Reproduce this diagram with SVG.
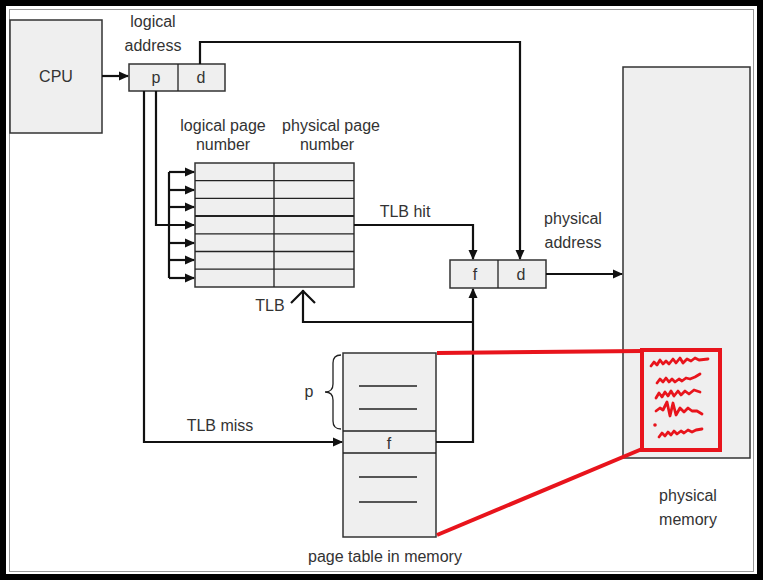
<svg xmlns="http://www.w3.org/2000/svg" width="763" height="580" viewBox="0 0 763 580">
<style>
.box{fill:#efefef;stroke:#333;stroke-width:1.5}
.ln{fill:none;stroke:#111;stroke-width:2.2}
.thin{fill:none;stroke:#222;stroke-width:1.3}
.t{font-family:"Liberation Sans",Arial,sans-serif;font-size:16px;fill:#333;text-anchor:middle}
.red{fill:none;stroke:#e8141c;stroke-width:4}
.sq{fill:none;stroke:#e8141c;stroke-width:2.8;stroke-linejoin:round;stroke-linecap:round}
</style>
<defs>
<marker id="ah" viewBox="0 0 10 10" refX="9" refY="5" markerWidth="10" markerHeight="10" markerUnits="userSpaceOnUse" orient="auto">
<path d="M0,0.5 L10,5 L0,9.5 Z" fill="#111"/>
</marker>
</defs>
<rect x="0" y="0" width="763" height="580" fill="#fff"/>
<rect x="3" y="3" width="757" height="574" fill="none" stroke="#000" stroke-width="6"/>
<rect x="9.5" y="9.5" width="744" height="562" fill="none" stroke="#999" stroke-width="1"/>

<g id="cpu">
<rect class="box" x="10" y="20" width="92" height="113"/>
<text class="t" x="56" y="82" font-size="17">CPU</text>
</g>

<g id="logical-address">
<text class="t" x="153" y="27">logical</text>
<text class="t" x="153" y="51">address</text>
<rect class="box" x="129" y="64" width="96" height="27"/>
<line class="thin" x1="178" y1="64" x2="178" y2="91"/>
<text class="t" x="156" y="83">p</text>
<text class="t" x="201" y="83">d</text>
</g>

<g id="tlb">
<text class="t" x="223" y="131">logical page</text>
<text class="t" x="223" y="150">number</text>
<text class="t" x="331" y="131">physical page</text>
<text class="t" x="327" y="150">number</text>
<rect class="box" x="195" y="163" width="159" height="124"/>
<g class="thin">
<line x1="274" y1="163" x2="274" y2="287"/>
<line x1="195" y1="180.7" x2="354" y2="180.7"/>
<line x1="195" y1="198.4" x2="354" y2="198.4"/>
<line x1="195" y1="216.1" x2="354" y2="216.1" stroke-width="2"/>
<line x1="195" y1="233.8" x2="354" y2="233.8"/>
<line x1="195" y1="251.5" x2="354" y2="251.5"/>
<line x1="195" y1="269.2" x2="354" y2="269.2"/>
</g>
<text class="t" x="270" y="311">TLB</text>
</g>

<g id="physical-address">
<text class="t" x="573" y="224">physical</text>
<text class="t" x="573" y="248">address</text>
<rect class="box" x="450" y="260" width="96" height="28"/>
<line class="thin" x1="498" y1="260" x2="498" y2="288"/>
<text class="t" x="475" y="280">f</text>
<text class="t" x="521" y="280">d</text>
</g>

<g id="page-table">
<rect class="box" x="343" y="353" width="93" height="184"/>
<line class="thin" x1="343" y1="431" x2="436" y2="431"/>
<line class="thin" x1="343" y1="453" x2="436" y2="453" stroke-width="2"/>
<g class="thin">
<line x1="359" y1="386" x2="417" y2="386"/>
<line x1="359" y1="409" x2="417" y2="409"/>
<line x1="359" y1="477" x2="417" y2="477"/>
<line x1="359" y1="502" x2="417" y2="502"/>
</g>
<text class="t" x="389" y="449" font-size="13">f</text>
<path class="thin" d="M341,355 Q333,355 333,363 L333,384 Q333,392 325,392 Q333,392 333,400 L333,421 Q333,429 341,429"/>
<text class="t" x="309" y="397">p</text>
<text class="t" x="385" y="562" font-size="15">page table in memory</text>
</g>

<g id="physical-memory">
<rect class="box" x="623" y="67" width="127" height="391"/>
<text class="t" x="688" y="501">physical</text>
<text class="t" x="688" y="525">memory</text>
<rect class="red" x="642" y="350" width="78" height="100"/>
<path class="sq" d="M651,366 l3,-4 l3,3 l3,-5 l3,4 l3,-3 l3,3 l4,-5 l3,4 l4,-5 l3,5 l4,-4 l4,2 l4,-3 l4,2 l9,-1"/>
<path class="sq" d="M657,383 l3,-4 l3,3 l3,-4 l3,4 l3,-3 l3,3 l4,-3 l3,2 l4,-3 l4,1 l5,-2 l5,-3"/>
<path class="sq" d="M656,398 l3,-5 l3,4 l3,-5 l3,4 l3,-5 l3,5 l4,-5 l3,4 l4,-4 l4,3 l5,-4 l6,2"/>
<path class="sq" d="M656,411 l4,-3 l3,2 l4,-8 l3,14 l3,-13 l3,12 l4,-7 l4,4 l4,-4 l4,3 l5,0 l5,3"/>
<circle cx="655" cy="425" r="1.8" fill="#e8141c"/>
<path class="sq" d="M659,437 l3,-4 l3,3 l3,-4 l3,3 l3,-4 l3,3 l4,-3 l3,2 l4,-3 l4,2 l4,-2 l6,-1"/>
</g>

<g id="connectors">
<line class="ln" x1="102" y1="76" x2="128" y2="76" marker-end="url(#ah)"/>
<polyline class="ln" points="200,64 200,42 520,42 520,259" marker-end="url(#ah)"/>
<polyline class="ln" points="156,91 156,225 194,225" marker-end="url(#ah)"/>
<line class="ln" x1="169" y1="172" x2="169" y2="278"/>
<line class="ln" x1="169" y1="172" x2="194" y2="172" marker-end="url(#ah)"/>
<line class="ln" x1="169" y1="190" x2="194" y2="190" marker-end="url(#ah)"/>
<line class="ln" x1="169" y1="207" x2="194" y2="207" marker-end="url(#ah)"/>
<line class="ln" x1="169" y1="243" x2="194" y2="243" marker-end="url(#ah)"/>
<line class="ln" x1="169" y1="260" x2="194" y2="260" marker-end="url(#ah)"/>
<line class="ln" x1="169" y1="278" x2="194" y2="278" marker-end="url(#ah)"/>
<polyline class="ln" points="354,225 473,225 473,259" marker-end="url(#ah)"/>
<text class="t" x="405" y="217">TLB hit</text>
<line class="ln" x1="546" y1="274" x2="622" y2="274" marker-end="url(#ah)"/>
<polyline class="ln" points="144,91 144,442 342,442" marker-end="url(#ah)"/>
<text class="t" x="220" y="431">TLB miss</text>
<polyline class="ln" points="436,442 473,442 473,289" marker-end="url(#ah)"/>
<polyline class="ln" points="473,322 303,322 303,290"/>
<polyline class="ln" points="291,303 303,291 315,303"/>
<line class="red" x1="437" y1="353" x2="642" y2="351"/>
<line class="red" x1="437" y1="535" x2="642" y2="449"/>
</g>
</svg>
